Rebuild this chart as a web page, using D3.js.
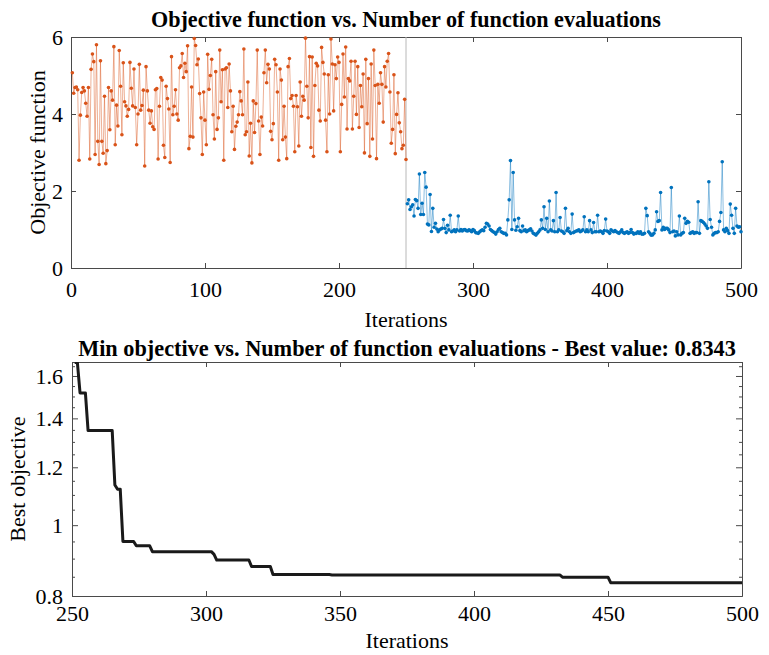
<!DOCTYPE html>
<html><head><meta charset="utf-8">
<script src="https://cdn.jsdelivr.net/npm/d3@7"></script>
<style>body{margin:0;background:#fff} text{font-family:"Liberation Serif","DejaVu Serif",serif;fill:#000}</style>
</head><body><svg id="c" width="769" height="655"></svg>
<script>
// Top plot: objective per iteration (1..250 random phase, 251..500 model phase)
const orangeVals = [5.07,4.54,4.69,4.70,4.63,2.80,3.97,4.56,4.69,4.60,4.28,3.94,4.69,2.83,5.16,5.56,5.36,2.95,5.80,3.29,
2.69,5.38,3.29,2.98,4.46,2.71,3.05,4.69,3.59,4.60,4.36,5.75,3.20,4.23,3.69,5.65,4.72,3.46,5.33,4.32,
4.21,3.94,4.12,5.34,4.67,4.21,5.17,4.17,3.20,4.00,5.29,4.10,4.22,4.62,2.65,5.23,4.60,4.10,3.76,4.08,
3.67,3.60,4.63,4.66,2.83,4.20,4.95,4.88,3.19,2.87,4.72,4.40,4.13,2.74,5.49,3.98,4.20,4.63,4.00,3.84,
5.20,5.25,5.57,4.95,5.32,5.10,5.77,3.10,3.42,4.70,3.40,5.96,5.78,5.28,5.43,4.53,3.90,2.95,4.57,3.84,
3.20,5.55,4.64,5.00,5.42,3.98,3.35,5.10,3.60,3.90,5.66,4.32,5.15,2.80,5.17,5.20,4.17,5.30,4.60,3.54,
4.20,3.08,3.68,3.79,3.98,4.58,4.34,3.98,5.69,3.46,3.54,4.83,2.91,3.76,2.73,4.34,3.52,4.27,5.66,3.82,
2.95,3.92,3.69,5.07,5.66,4.81,5.29,5.17,3.55,3.33,3.75,5.42,5.28,4.57,2.80,5.17,4.88,3.33,4.20,3.40,
2.84,5.23,5.44,4.40,4.48,4.20,3.02,4.48,4.19,3.17,4.83,3.94,4.46,4.36,5.97,4.72,3.90,5.49,3.13,5.48,
2.90,4.74,5.32,5.25,4.10,3.82,5.73,5.34,5.04,3.84,3.02,5.02,4.00,5.95,5.30,4.08,5.28,4.92,5.48,5.34,
3.02,4.25,5.56,4.44,5.74,3.61,4.92,4.86,5.37,3.61,4.46,5.37,3.99,5.23,3.65,4.74,4.19,5.04,2.99,5.42,
3.75,4.92,2.90,5.30,3.35,5.66,4.74,2.84,4.77,4.28,5.07,4.77,3.79,5.23,4.70,5.37,5.57,4.57,3.24,3.60,
5.02,2.97,3.99,4.55,3.77,3.54,3.10,3.19,4.38,2.82];
const blueVals = [1.67,1.77,1.52,1.59,1.64,1.35,1.78,1.75,1.55,2.44,1.39,1.68,1.39,2.48,2.10,1.14,1.12,1.91,0.95,1.55,
1.06,1.16,1.01,0.94,0.99,1.01,1.03,1.26,1.03,0.92,1.11,0.99,1.37,0.94,0.96,0.99,0.94,0.99,1.35,0.96,
1.00,0.96,0.99,1.00,0.97,0.96,0.99,0.97,0.94,1.00,0.97,0.92,0.91,0.90,0.94,0.97,0.99,0.97,1.06,1.16,
1.14,1.09,1.00,0.97,0.94,0.92,0.88,0.94,1.00,1.03,0.94,0.92,0.90,0.90,0.86,1.25,1.77,2.79,1.00,2.48,
1.25,0.98,1.07,1.29,0.97,0.94,1.09,0.97,0.99,0.94,0.97,0.99,1.02,0.96,0.90,0.88,0.855,0.90,0.94,0.99,
1.25,1.03,1.59,1.00,1.29,0.94,1.74,0.99,0.96,1.23,0.94,1.96,0.94,0.99,1.31,0.96,0.94,0.90,1.55,0.97,
1.03,0.94,0.90,1.40,0.92,0.94,0.96,0.97,0.99,0.94,0.96,0.99,1.33,0.94,0.99,0.94,1.23,0.99,0.92,1.18,
0.94,0.94,1.37,0.94,0.96,0.94,0.90,0.97,1.27,0.96,0.94,0.90,0.99,0.96,0.94,0.97,0.94,0.92,0.90,0.94,
0.99,0.92,0.90,0.92,0.94,0.90,0.92,1.00,0.92,0.88,0.90,0.90,0.94,0.90,0.94,0.88,0.88,0.90,1.55,1.36,
0.94,0.90,0.849,0.86,0.90,0.99,1.46,1.21,1.23,1.96,0.99,1.06,1.00,1.03,1.03,0.99,0.92,2.09,0.94,0.96,
0.8343,0.94,0.86,1.35,0.86,0.90,0.92,1.29,1.16,1.21,1.19,0.90,0.92,0.94,0.90,0.92,0.92,1.72,0.90,1.23,
1.21,1.18,1.14,1.09,1.03,2.24,1.26,1.06,0.86,0.90,0.92,0.92,0.94,1.21,1.44,2.76,0.99,0.94,1.03,0.97,
0.90,1.66,1.37,1.03,0.90,1.55,1.09,1.06,1.07,0.94];
const orangeStart = 1, blueStart = 251;
const topXTicks = [0,100,200,300,400,500];
const topYTicks = [0,2,4,6];
const phaseSplit = 250;

// Bottom plot: best objective change points
const bestChangeIter = [251,253,256,266,267,269,274,280,303,304,317,325,347,433,451];
const bestChangeVal  = [1.67,1.517,1.347,1.135,1.12,0.95,0.937,0.920,0.912,0.896,0.878,0.856,0.855,0.849,0.8343];
const bestEndIter = 500;
const bottomXTicks = [250,300,350,400,450,500];
const bottomYTicks = [0.8,1,1.2,1.4,1.6];
const bottomYTickLabels = ["0.8","1","1.2","1.4","1.6"];
const bottomYMinor = [0.85,0.9,0.95,1.05,1.1,1.15,1.25,1.3,1.35,1.45,1.5,1.55,1.65];

const svg = d3.select("#c");
const axisColor = "#4a4a4a";
const orange = "#D95319", blue = "#0072BD";
const FONT = "'Liberation Serif','DejaVu Serif',serif";
const TICKSIZE = "22px";

function fitText(sel, target){
  const node = sel.node();
  const w = node.getComputedTextLength();
  const fs = parseFloat(sel.style("font-size"));
  if (w > 0) sel.style("font-size", (fs*target/w).toFixed(2)+"px");
  return sel;
}

// ---------- TOP ----------
const T = {l:71, r:741, t:37, b:268};
const xT = d3.scaleLinear().domain([0,500]).range([T.l,T.r]);
const yT = d3.scaleLinear().domain([0,6]).range([T.b,T.t]);
const gT = svg.append("g");

function styleAxis(g){
  g.attr("font-family", FONT).attr("font-size", TICKSIZE);
  g.selectAll("path.domain").attr("stroke",axisColor).attr("stroke-width",1);
  g.selectAll(".tick line").attr("stroke",axisColor);
  g.selectAll("text").attr("fill","#111");
}
gT.append("g").attr("transform",`translate(0,${T.b})`)
  .call(d3.axisBottom(xT).tickValues(topXTicks).tickSizeInner(-5).tickSizeOuter(0).tickPadding(13).tickFormat(d3.format("d")))
  .call(styleAxis);
gT.append("g").attr("transform",`translate(0,${T.t})`)
  .call(d3.axisTop(xT).tickValues(topXTicks).tickSizeInner(-5).tickSizeOuter(0).tickFormat(""))
  .call(styleAxis);
gT.append("g").attr("transform",`translate(${T.l},0)`)
  .call(d3.axisLeft(yT).tickValues(topYTicks).tickSizeInner(-5).tickSizeOuter(0).tickPadding(8).tickFormat(d3.format("d")))
  .call(styleAxis);
gT.append("g").attr("transform",`translate(${T.r},0)`)
  .call(d3.axisRight(yT).tickValues(topYTicks).tickSizeInner(-5).tickSizeOuter(0).tickFormat(""))
  .call(styleAxis);

gT.append("line").attr("x1",xT(phaseSplit)).attr("x2",xT(phaseSplit)).attr("y1",T.t).attr("y2",T.b)
  .attr("stroke","#b8b8b8").attr("stroke-width",1);

const oData = orangeVals.map((v,i)=>({x:orangeStart+i,v}));
const bData = blueVals.map((v,i)=>({x:blueStart+i,v}));
const lineT = d3.line().x(d=>xT(d.x)).y(d=>yT(d.v));
gT.append("path").datum(oData).attr("d",lineT).attr("fill","none").attr("stroke",orange).attr("stroke-opacity",0.5).attr("stroke-width",0.9);
gT.append("path").datum(bData).attr("d",lineT).attr("fill","none").attr("stroke",blue).attr("stroke-opacity",0.5).attr("stroke-width",0.9);
gT.selectAll("circle.o").data(oData).enter().append("circle").attr("class","o")
  .attr("cx",d=>xT(d.x)).attr("cy",d=>yT(d.v)).attr("r",1.8).attr("fill",orange);
gT.selectAll("circle.b").data(bData).enter().append("circle").attr("class","b")
  .attr("cx",d=>xT(d.x)).attr("cy",d=>yT(d.v)).attr("r",1.8).attr("fill",blue);

fitText(svg.append("text").attr("x",(T.l+T.r)/2).attr("y",27).attr("text-anchor","middle")
  .style("font-family",FONT).style("font-size","20px").style("font-weight","bold")
  .text("Objective function vs. Number of function evaluations"), 510);
svg.append("text").attr("x",(T.l+T.r)/2).attr("y",327).attr("text-anchor","middle")
  .style("font-family",FONT).style("font-size","22px").text("Iterations");
svg.append("text").attr("transform",`translate(45,${(T.t+T.b)/2}) rotate(-90)`).attr("text-anchor","middle")
  .style("font-family",FONT).style("font-size","22px").text("Objective function");

// ---------- BOTTOM ----------
const B = {l:72, r:742, t:362, b:596};
const xB = d3.scaleLinear().domain([250,500]).range([B.l,B.r]);
const yB = d3.scaleLog().domain([0.8,1.672]).range([B.b,B.t]);
const gB = svg.append("g");
const fmtB = d=>bottomYTickLabels[bottomYTicks.indexOf(d)];

gB.append("g").attr("transform",`translate(0,${B.b})`)
  .call(d3.axisBottom(xB).tickValues(bottomXTicks).tickSizeInner(-5).tickSizeOuter(0).tickPadding(9).tickFormat(d3.format("d")))
  .call(styleAxis);
gB.append("g").attr("transform",`translate(0,${B.t})`)
  .call(d3.axisTop(xB).tickValues(bottomXTicks).tickSizeInner(-5).tickSizeOuter(0).tickFormat(""))
  .call(styleAxis);
gB.append("g").attr("transform",`translate(${B.l},0)`)
  .call(d3.axisLeft(yB).tickValues(bottomYTicks).tickSizeInner(-6).tickSizeOuter(0).tickPadding(9).tickFormat(fmtB))
  .call(styleAxis);
gB.append("g").attr("transform",`translate(${B.l},0)`)
  .call(d3.axisLeft(yB).tickValues(bottomYMinor).tickSizeInner(-3).tickSizeOuter(0).tickFormat(""))
  .call(styleAxis);
gB.append("g").attr("transform",`translate(${B.r},0)`)
  .call(d3.axisRight(yB).tickValues(bottomYTicks).tickSizeInner(-6).tickSizeOuter(0).tickFormat(""))
  .call(styleAxis);
gB.append("g").attr("transform",`translate(${B.r},0)`)
  .call(d3.axisRight(yB).tickValues(bottomYMinor).tickSizeInner(-3).tickSizeOuter(0).tickFormat(""))
  .call(styleAxis);

const bestPts = [{x:bestChangeIter[0], v:bestChangeVal[0]}];
for(let k=1;k<bestChangeIter.length;k++){
  bestPts.push({x:bestChangeIter[k]-1, v:bestChangeVal[k-1]});
  bestPts.push({x:bestChangeIter[k], v:bestChangeVal[k]});
}
bestPts.push({x:bestEndIter, v:bestChangeVal[bestChangeVal.length-1]});
svg.append("clipPath").attr("id","clipB").append("rect").attr("x",B.l).attr("y",B.t).attr("width",B.r-B.l).attr("height",B.b-B.t);
gB.append("path").datum(bestPts).attr("clip-path","url(#clipB)")
  .attr("d",d3.line().x(d=>xB(d.x)).y(d=>yB(d.v)))
  .attr("fill","none").attr("stroke","#1a1a1a").attr("stroke-width",3).attr("stroke-linejoin","round");

fitText(svg.append("text").attr("x",(B.l+B.r)/2).attr("y",356).attr("text-anchor","middle")
  .style("font-family",FONT).style("font-size","20px").style("font-weight","bold")
  .text("Min objective vs. Number of function evaluations - Best value: 0.8343"), 658);
svg.append("text").attr("x",(B.l+B.r)/2).attr("y",648).attr("text-anchor","middle")
  .style("font-family",FONT).style("font-size","22px").text("Iterations");
svg.append("text").attr("transform",`translate(25,${(B.t+B.b)/2}) rotate(-90)`).attr("text-anchor","middle")
  .style("font-family",FONT).style("font-size","22px").text("Best objective");
</script></body></html>
